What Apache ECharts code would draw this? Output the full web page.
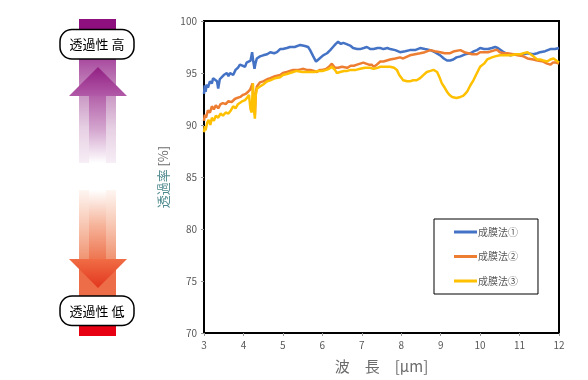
<!DOCTYPE html>
<html>
<head>
<meta charset="utf-8">
<script src="https://cdn.jsdelivr.net/npm/echarts@6/dist/echarts.min.js"></script>
<style>
html,body{margin:0;padding:0;background:#fff;}
#c{width:588px;height:380px;}
</style>
</head>
<body>
<div id="c"></div>
<script>
// ---- data ----
const seriesNames = ['成膜法①', '成膜法②', '成膜法③'];
const yTicks = [70, 75, 80, 85, 90, 95, 100];
const xTicks = [3, 4, 5, 6, 7, 8, 9, 10, 11, 12];

const wl1 = [3.00,3.02,3.04,3.07,3.10,3.15,3.20,3.23,3.28,3.33,3.36,3.40,3.45,3.50,3.58,3.62,3.66,3.74,3.80,3.86,3.91,3.96,4.04,4.08,4.12,4.18,4.22,4.25,4.28,4.31,4.34,4.42,4.50,4.60,4.68,4.78,4.85,4.93,5.00,5.10,5.18,5.30,5.44,5.56,5.64,5.69,5.77,5.84,5.90,5.94,6.02,6.12,6.20,6.27,6.34,6.40,6.47,6.53,6.60,6.65,6.72,6.78,6.88,6.96,7.05,7.13,7.22,7.30,7.40,7.47,7.55,7.65,7.72,7.85,7.97,8.10,8.22,8.35,8.48,8.60,8.74,8.85,8.99,9.08,9.16,9.24,9.32,9.40,9.50,9.62,9.75,9.85,9.92,10.00,10.10,10.20,10.30,10.38,10.45,10.50,10.60,10.69,10.77,10.84,10.95,11.10,11.20,11.35,11.45,11.52,11.65,11.78,11.90,12.00];
const t1 = [93.0,93.8,93.2,93.9,93.6,94.2,94.0,94.5,94.6,94.2,93.5,94.4,94.3,94.8,95.0,94.7,95.0,94.8,95.3,95.5,95.8,95.8,95.6,96.0,96.0,96.2,97.0,96.1,95.4,96.0,96.4,96.6,96.7,96.8,97.0,96.9,97.0,97.3,97.3,97.4,97.5,97.5,97.7,97.6,97.5,97.2,96.6,96.1,96.3,96.4,96.7,96.9,97.2,97.5,97.8,98.0,97.8,97.9,97.8,97.8,97.6,97.4,97.3,97.3,97.4,97.5,97.3,97.3,97.4,97.4,97.3,97.4,97.3,97.2,97.0,97.1,97.2,97.2,97.4,97.3,97.2,97.0,96.7,96.4,96.2,96.2,96.3,96.5,96.6,96.8,96.9,97.1,97.2,97.4,97.3,97.3,97.4,97.5,97.4,97.3,97.0,96.8,96.7,96.8,96.8,96.8,96.9,96.8,96.9,97.0,97.1,97.3,97.3,97.4];

const wl2 = [3.00,3.02,3.05,3.10,3.15,3.20,3.25,3.30,3.36,3.42,3.48,3.55,3.62,3.70,3.78,3.84,3.92,3.99,4.06,4.12,4.17,4.20,4.23,4.26,4.29,4.31,4.34,4.42,4.50,4.60,4.68,4.80,4.93,5.00,5.10,5.26,5.40,5.50,5.61,5.70,5.79,5.86,5.93,6.00,6.10,6.17,6.24,6.28,6.32,6.40,6.50,6.63,6.72,6.80,6.88,6.96,7.04,7.11,7.18,7.25,7.30,7.38,7.47,7.55,7.72,7.85,7.97,8.05,8.22,8.35,8.48,8.60,8.74,8.85,8.99,9.10,9.24,9.35,9.50,9.60,9.70,9.80,9.92,10.00,10.08,10.20,10.38,10.44,10.50,10.60,10.69,10.84,10.95,11.10,11.20,11.35,11.45,11.60,11.70,11.78,11.85,11.92,12.00];
const t2 = [90.4,91.0,90.7,91.4,91.2,91.8,91.5,91.9,91.6,92.0,92.1,92.0,92.3,92.2,92.5,92.6,92.7,92.9,93.0,93.2,93.4,93.3,94.0,92.0,91.0,93.0,93.7,94.1,94.2,94.4,94.5,94.7,94.8,95.0,95.1,95.3,95.3,95.4,95.3,95.3,95.2,95.1,95.3,95.3,95.4,95.6,95.9,95.8,95.5,95.5,95.6,95.5,95.7,95.7,95.8,95.9,96.0,95.9,95.8,95.8,95.6,95.8,96.1,96.1,96.3,96.4,96.5,96.4,96.7,96.8,96.9,97.0,97.2,97.1,97.0,96.9,96.9,97.1,97.2,97.0,96.9,96.8,96.8,97.0,97.0,97.0,97.2,97.2,97.0,96.9,96.9,96.8,96.7,96.6,96.4,96.3,96.2,96.1,95.9,95.8,96.0,96.0,95.9];

const wl3 = [3.00,3.02,3.04,3.08,3.12,3.16,3.20,3.25,3.30,3.36,3.42,3.48,3.55,3.62,3.68,3.74,3.80,3.86,3.91,3.98,4.04,4.09,4.14,4.18,4.21,4.24,4.26,4.29,4.31,4.34,4.42,4.50,4.60,4.68,4.80,4.93,5.00,5.10,5.26,5.35,5.50,5.61,5.69,5.80,5.90,6.00,6.10,6.17,6.24,6.32,6.37,6.45,6.55,6.63,6.72,6.85,6.96,7.08,7.21,7.30,7.40,7.47,7.60,7.72,7.82,7.89,7.95,8.05,8.15,8.22,8.30,8.39,8.48,8.56,8.65,8.74,8.82,8.91,8.97,9.03,9.10,9.16,9.22,9.29,9.40,9.50,9.57,9.62,9.67,9.75,9.83,9.92,10.00,10.10,10.18,10.30,10.38,10.50,10.60,10.69,10.80,10.90,11.02,11.10,11.20,11.28,11.35,11.45,11.52,11.60,11.70,11.78,11.86,11.93,12.00];
const t3 = [89.3,89.9,89.5,90.2,90.5,90.0,90.7,90.4,90.9,90.7,91.1,90.9,91.2,91.1,91.4,91.8,91.6,92.0,92.1,92.3,92.4,92.6,92.9,91.5,91.2,94.0,92.0,90.6,92.8,93.5,93.7,93.9,94.2,94.3,94.5,94.6,94.8,94.9,95.1,95.2,95.1,95.1,95.1,95.1,95.2,95.2,95.3,95.4,95.6,95.3,95.0,95.1,95.2,95.2,95.3,95.3,95.4,95.5,95.5,95.4,95.5,95.6,95.6,95.6,95.5,95.3,94.8,94.3,94.2,94.2,94.3,94.3,94.5,94.8,95.1,95.2,95.3,95.1,94.6,94.0,93.6,93.2,92.9,92.7,92.6,92.7,92.8,93.0,93.2,93.8,94.3,95.0,95.6,95.9,96.3,96.5,96.6,96.7,96.7,96.7,96.7,96.8,96.8,96.9,97.0,96.8,96.6,96.3,96.3,96.2,96.1,96.3,96.4,96.2,96.0];

const colors = ['#4472C4', '#ED7D31', '#FFC000'];
const zip = (xs, ys) => xs.map((x, i) => [x, ys[i]]);

const chart = echarts.init(document.getElementById('c'), null, {renderer: 'canvas'});
const font = '"Noto Sans CJK JP", "Noto Sans", sans-serif';
const lg = (stops) => ({type: 'linear', x: 0, y: 0, x2: 0, y2: 1, colorStops: stops.map((c, i) => ({offset: i / (stops.length - 1), color: c}))});

chart.setOption({
  animation: false,
  backgroundColor: '#fff',
  textStyle: {fontFamily: font},
  grid: {left: 204, right: 29, top: 21, bottom: 47, show: true, borderColor: '#000', borderWidth: 2},
  xAxis: {
    type: 'value', min: xTicks[0], max: xTicks[xTicks.length - 1], interval: 1,
    name: '波　長　[μm]', nameLocation: 'middle', nameGap: 26,
    nameTextStyle: {fontSize: 15, color: '#6b6b6b', fontFamily: font},
    axisLine: {lineStyle: {color: '#000', width: 2}},
    axisTick: {show: true, length: 3, lineStyle: {color: '#999'}},
    axisLabel: {fontSize: 10, color: '#595959', margin: 7},
    splitLine: {show: false}
  },
  yAxis: {
    type: 'value', min: yTicks[0], max: yTicks[yTicks.length - 1], interval: 5,
    name: '{a|透過率} {b|[%]}', nameLocation: 'middle', nameGap: 32, nameRotate: 90,
    nameTextStyle: {fontFamily: font, rich: {a: {fontSize: 13, color: '#4f8a8f', fontFamily: font}, b: {fontSize: 13, color: '#6b6b6b', fontFamily: font}}},
    axisLine: {show: true, lineStyle: {color: '#000', width: 2}},
    axisTick: {show: true, length: 3, lineStyle: {color: '#999'}},
    axisLabel: {fontSize: 10, color: '#595959', margin: 7},
    splitLine: {show: false}
  },
  legend: {
    data: seriesNames, orient: 'vertical', left: 434, top: 219,
    padding: [7, 20, 7, 20], itemGap: 12.5, itemWidth: 23, itemHeight: 3,
    icon: 'rect', backgroundColor: '#fff', borderColor: '#000', borderWidth: 1, borderRadius: 0,
    textStyle: {fontSize: 10, color: '#595959', lineHeight: 12, padding: [0, 0, 0, -4]}
  },
  series: [
    {name: seriesNames[0], type: 'line', data: zip(wl1, t1), showSymbol: false, color: colors[0], lineStyle: {width: 2.5, color: colors[0]}},
    {name: seriesNames[1], type: 'line', data: zip(wl2, t2), showSymbol: false, color: colors[1], lineStyle: {width: 2.5, color: colors[1]}},
    {name: seriesNames[2], type: 'line', data: zip(wl3, t3), showSymbol: false, color: colors[2], lineStyle: {width: 2.5, color: colors[2]}}
  ],
  graphic: [
    // top purple part
    {type: 'rect', shape: {x: 79, y: 19, width: 37, height: 14}, style: {fill: '#8E0F7E'}},
    {type: 'rect', shape: {x: 79, y: 58, width: 37, height: 105}, style: {fill: lg(['#A8489E', '#C894C2', '#E6CFE3', '#F7EEF6'])}},
    {type: 'rect', shape: {x: 89, y: 96, width: 17, height: 67}, style: {fill: lg(['#B462AA', '#D4A6CF', '#FFFFFF'])}},
    {type: 'polygon', shape: {points: [[98, 67], [127, 96], [69, 96]]}, style: {fill: lg(['#922083', '#B25AA8'])}},
    {type: 'rect', shape: {x: 60, y: 29.5, width: 74, height: 29.5, r: 12}, style: {fill: '#fff', stroke: '#000', lineWidth: 1.5}},
    {type: 'text', style: {x: 97, y: 44.5, text: '透過性 高', fontSize: 13, fontFamily: font, fill: '#000', align: 'center', verticalAlign: 'middle'}},
    // bottom orange part
    {type: 'rect', shape: {x: 79, y: 190, width: 37, height: 69}, style: {fill: lg(['#FEF6F2', '#F8C7B3', '#F09472'])}},
    {type: 'rect', shape: {x: 89, y: 190, width: 17, height: 69}, style: {fill: lg(['#FFFFFF', '#F6B59C', '#EE7550'])}},
    {type: 'rect', shape: {x: 79, y: 259, width: 37, height: 40}, style: {fill: '#EC6D47'}},
    {type: 'polygon', shape: {points: [[69, 259], [127, 259], [98, 288]]}, style: {fill: lg(['#F06D45', '#E2361E'])}},
    {type: 'rect', shape: {x: 79, y: 322, width: 37, height: 14}, style: {fill: '#E60012'}},
    {type: 'rect', shape: {x: 60, y: 296, width: 74, height: 29.5, r: 12}, style: {fill: '#fff', stroke: '#000', lineWidth: 1.5}},
    {type: 'text', style: {x: 97, y: 311, text: '透過性 低', fontSize: 13, fontFamily: font, fill: '#000', align: 'center', verticalAlign: 'middle'}}
  ]
});
</script>
</body>
</html>
